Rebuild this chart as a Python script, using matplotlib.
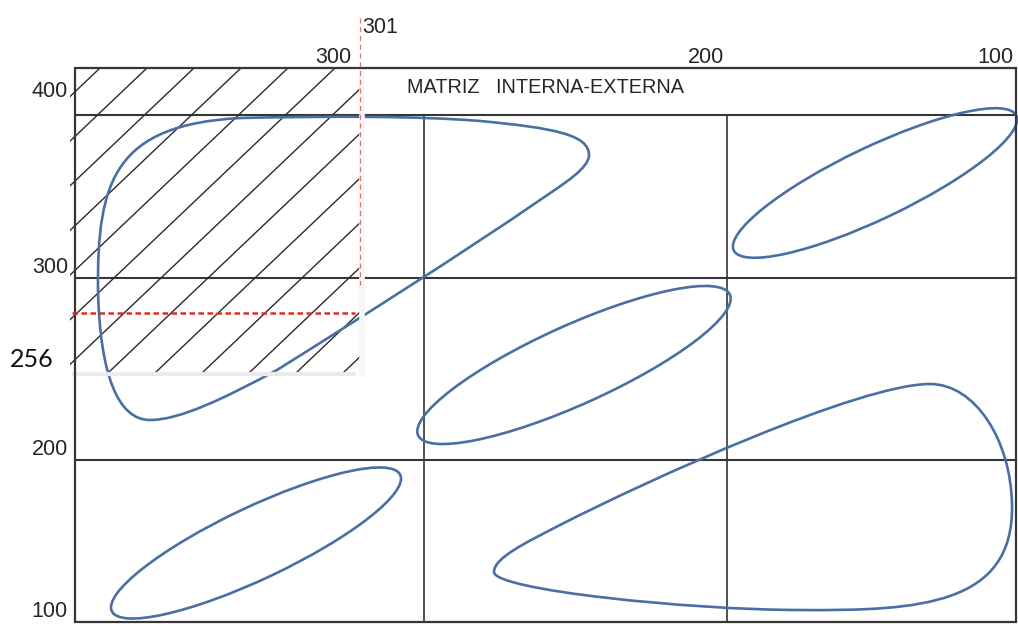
import numpy as np
import matplotlib
matplotlib.use("Agg")
import matplotlib.pyplot as plt
from matplotlib.patches import Ellipse, PathPatch, Rectangle
from matplotlib.path import Path

# textos de la matriz
title = "MATRIZ   INTERNA-EXTERNA"
top_labels = ["300", "200", "100"]
left_labels = ["400", "300", "200", "100"]
ife_value = "301"
efe_value = "256"

# posiciones (en pixeles de la imagen, y hacia abajo)
top_label_x = [333, 706, 995]
left_label_y = [97, 273, 455, 617]
col_edges = [75, 424, 727, 1016]
row_edges = [68, 115, 278, 460, 622]
ife_x = 360
efe_y = 313

# elipses: centro, ejes, inclinacion
ellipse_cx = [875, 574, 256]
ellipse_cy = [183, 365, 543]
ellipse_w = [313, 342, 319]
ellipse_h = [72, 79, 72]
ellipse_tilt = [25.5, 24.3, 25.3]

# gotas como bezier cubica (punto inicial + 3 puntos por tramo)
drop_a = [(150, 420),
          (118, 420), (100, 375), (98, 290),
          (97, 180), (115, 125), (240, 118),
          (330, 116), (420, 116), (480, 121),
          (555, 128), (589, 135), (589, 155),
          (589, 168), (565, 183), (540, 200),
          (460, 255), (360, 318), (277, 370),
          (225, 398), (180, 420), (150, 420)]
drop_b = [(494, 572),
          (494, 558), (525, 543), (560, 525),
          (650, 479), (860, 384), (930, 384),
          (975, 384), (1011, 440), (1012, 505),
          (1014, 605), (920, 611), (800, 610),
          (690, 610), (494, 590), (494, 572)]

font = "Liberation Sans"
fs, fs_title = 15.5, 14.3
line_col = "#363636"
txt_col = "#262626"
blue = "#4a6fa3"

fig = plt.figure(figsize=(10.18, 6.30), dpi=100)
ax = fig.add_axes([0, 0, 1, 1])
ax.set_xlim(0, 1018)
ax.set_ylim(630, 0)
ax.axis("off")

left, right = col_edges[0], col_edges[-1]
top, bottom = row_edges[0], row_edges[-1]

# lineas internas
for y in row_edges[1:-1]:
    ax.plot([left, right], [y, y], color=line_col, lw=1.5, zorder=1)
for x in col_edges[1:-1]:
    ax.plot([x, x], [row_edges[1], bottom], color=line_col, lw=1.2, zorder=1)

# rayado de la zona
hatch_box = Rectangle((70, top), ife_x + 2 - 70, 373 - top, transform=ax.transData)
for x0 in np.arange(100, 720, 47):
    ln, = ax.plot([x0, x0 - 420], [top, top + 0.95 * 420], color="#2a2a2a", lw=1.0, zorder=2)
    ln.set_clip_path(hatch_box)

# curvas
for cx, cy, w, h, t in zip(ellipse_cx, ellipse_cy, ellipse_w, ellipse_h, ellipse_tilt):
    ax.add_patch(Ellipse((cx, cy), w, h, angle=-t, fill=False, ec=blue, lw=1.9, zorder=3))
for pts in (drop_a, drop_b):
    path = Path(pts, [Path.MOVETO] + [Path.CURVE4] * (len(pts) - 1))
    ax.add_patch(PathPatch(path, fill=False, ec=blue, lw=1.9, zorder=3))

# borde claro del recuadro rayado
ax.plot([72, ife_x - 4], [374, 374], color="#ebebeb", lw=3, zorder=4, solid_capstyle="butt")
ax.plot([ife_x + 2, ife_x + 2], [top, 377], color="#f6f6f6", lw=4, zorder=4, solid_capstyle="butt")

# marco exterior
ax.add_patch(Rectangle((left, top), right - left, bottom - top, fill=False,
                       ec=line_col, lw=1.6, zorder=5))

# lineas rojas
ax.plot([ife_x, ife_x], [18, 285], color="#e07070", lw=0.9, dashes=(4, 3), zorder=6)
ax.plot([72, ife_x - 5], [efe_y, efe_y], color="#e02a2a", lw=1.8, dashes=(2.2, 1.4), zorder=6)

# textos
for lab, x in zip(top_labels, top_label_x):
    ax.text(x, 63, lab, ha="center", va="baseline", fontsize=fs, family=font, color=txt_col)
for lab, y in zip(left_labels, left_label_y):
    ax.text(68, y, lab, ha="right", va="baseline", fontsize=fs, family=font, color=txt_col)
ax.text(ife_x + 2, 33, ife_value, ha="left", va="baseline", fontsize=fs, family=font, color=txt_col)
ax.text(10, 367, efe_value, ha="left", va="baseline", fontsize=18, family="Lato", color="#111111")
ax.text(407, 93, title, ha="left", va="baseline", fontsize=fs_title, family=font, color=txt_col)

fig.savefig("out.png", dpi=100)
